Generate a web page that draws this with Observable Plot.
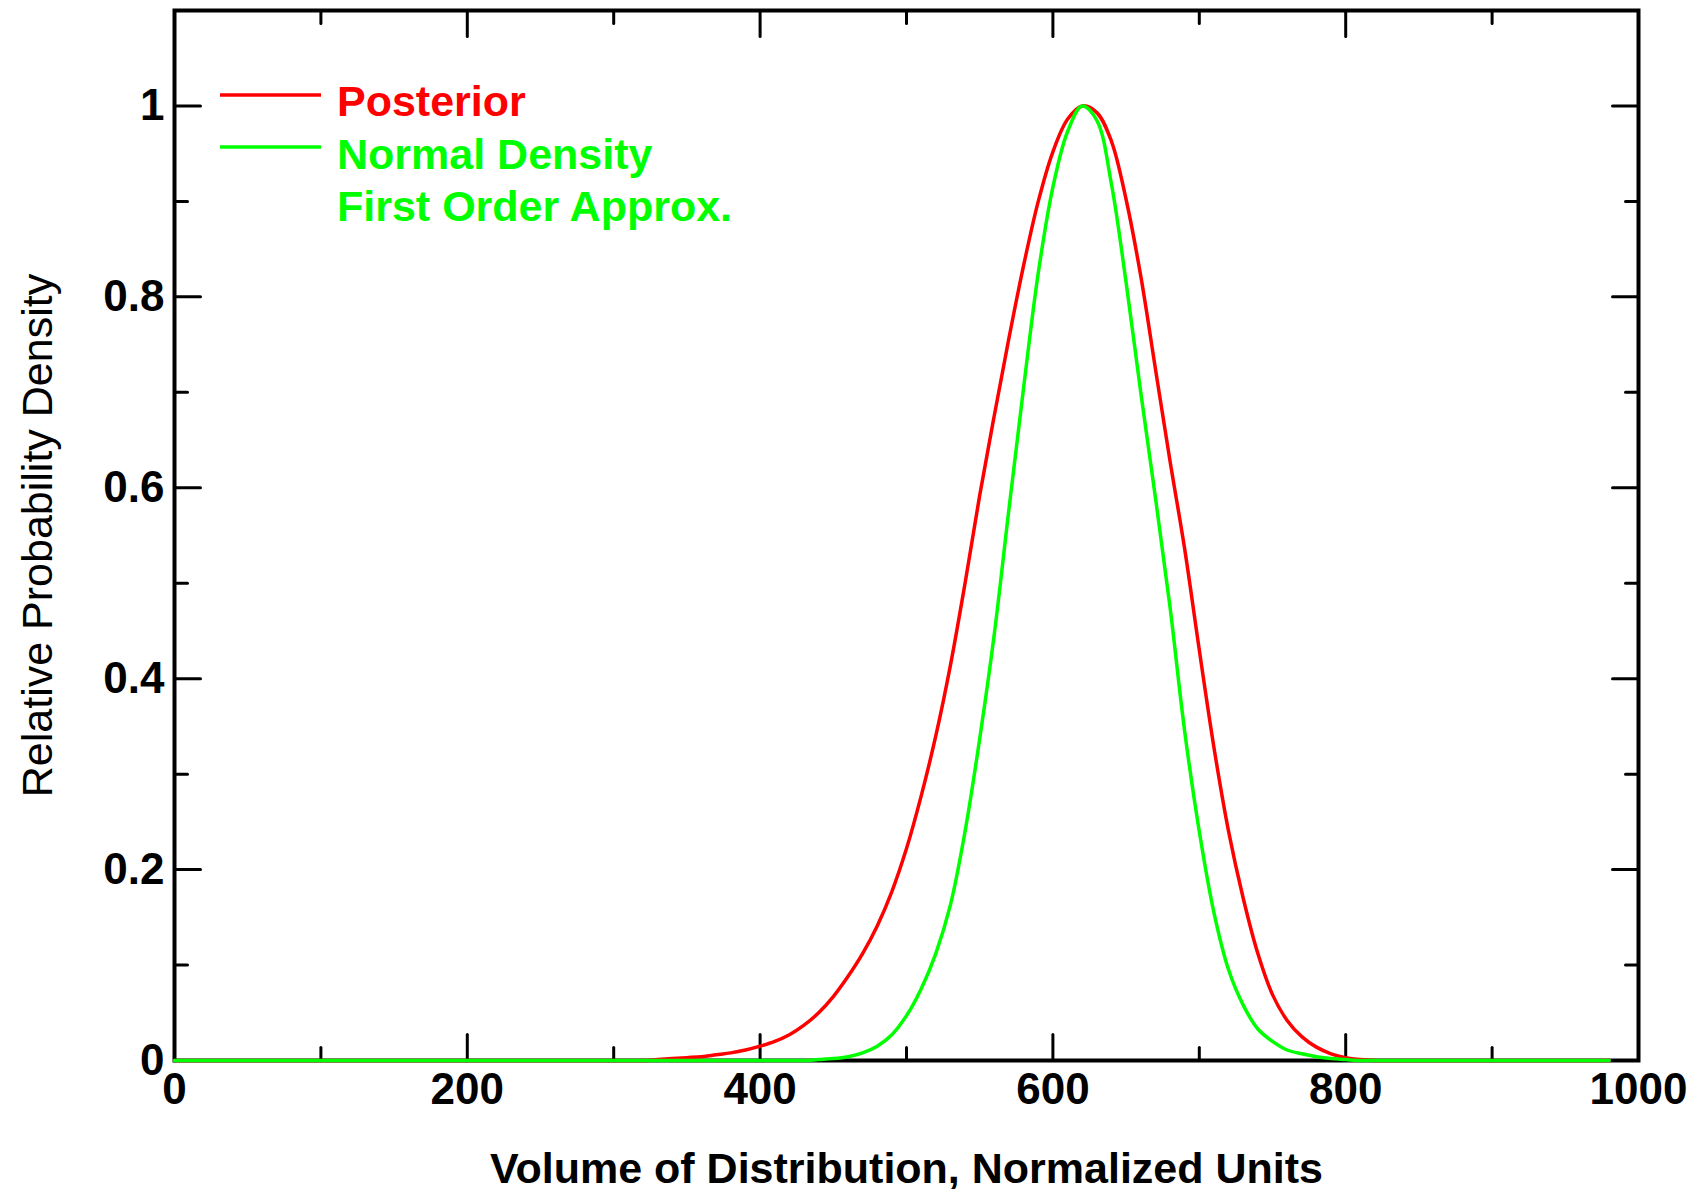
<!DOCTYPE html>
<html>
<head>
<meta charset="utf-8">
<script src="https://cdn.jsdelivr.net/npm/d3@7"></script>
<script src="https://cdn.jsdelivr.net/npm/@observablehq/plot@0.6"></script>
<style>
  html, body { margin: 0; padding: 0; background: #ffffff; }
  svg { display: block; }
</style>
</head>
<body>
<div id="chart"></div>
<script>
// ---- data ----
const volume = [0, 300, 310, 320, 330, 340, 350, 360, 370, 380, 390, 400, 410, 420, 430, 440, 450, 460, 470, 480, 490,
  500, 510, 520, 530, 540, 550, 560, 570, 580, 590, 600, 610, 620, 630, 640, 650, 660, 670, 680, 690,
  700, 710, 720, 730, 740, 750, 760, 770, 780, 790, 800, 810, 820, 830, 840, 980];
const posterior = [0, 0, 0, 0, 0.001, 0.002, 0.003, 0.004, 0.006, 0.008, 0.011, 0.015, 0.020, 0.027, 0.037, 0.050, 0.067, 0.088, 0.112, 0.141, 0.177,
  0.222, 0.277, 0.340, 0.414, 0.500, 0.592, 0.676, 0.757, 0.833, 0.900, 0.952, 0.986, 1.000, 0.993, 0.963, 0.902, 0.822, 0.725, 0.628, 0.536,
  0.430, 0.328, 0.240, 0.170, 0.112, 0.069, 0.042, 0.025, 0.014, 0.007, 0.003, 0.001, 0, 0, 0, 0];
const normalDensity = [0, 0, 0, 0, 0, 0, 0, 0, 0, 0, 0, 0, 0, 0, 0, 0.001, 0.002, 0.004, 0.008, 0.015, 0.027,
  0.047, 0.075, 0.112, 0.163, 0.240, 0.337, 0.447, 0.578, 0.705, 0.825, 0.915, 0.973, 1.000, 0.985, 0.918, 0.815, 0.700, 0.590, 0.475, 0.345,
  0.240, 0.155, 0.095, 0.058, 0.033, 0.020, 0.011, 0.007, 0.004, 0.002, 0.001, 0, 0, 0, 0, 0];

const xMajorTicks = [0, 200, 400, 600, 800, 1000];
const xMinorTicks = [100, 300, 500, 700, 900];
const xTickLabels = ["0", "200", "400", "600", "800", "1000"];
const yMajorTicks = [0, 0.2, 0.4, 0.6, 0.8, 1];
const yMinorTicks = [0.1, 0.3, 0.5, 0.7, 0.9, 1.1];
const yTickLabels = ["0", "0.2", "0.4", "0.6", "0.8", "1"];
const seriesNames = ["Posterior", "Normal Density"];
const seriesColors = ["#ff0000", "#00ff00"];
const legendLabels = ["Posterior", "Normal Density", "First Order Approx."];
const legendColors = ["#ff0000", "#00ff00", "#00ff00"];
const xTitle = "Volume of Distribution, Normalized Units";
const yTitle = "Relative Probability Density";

// ---- build tables ----
const postRows = volume.map((v, i) => ({v, d: posterior[i]}));
const normRows = volume.map((v, i) => ({v, d: normalDensity[i]}));
const xLabelRows = xMajorTicks.map((t, i) => ({t, label: xTickLabels[i]}));
const yLabelRows = yMajorTicks.map((t, i) => ({t, label: yTickLabels[i]}));

const FONT = "'Liberation Sans', Arial, Helvetica, sans-serif";
const tickShape = {draw(context, l) { context.moveTo(0, 0); context.lineTo(0, -l); }};
const MAJ = 26, MIN = 13, TW = 3;

function ticks(data, channel, frameAnchor, rotate, length) {
  const o = {frameAnchor, rotate, length, anchor: "start", shape: tickShape, stroke: "black", strokeWidth: TW};
  o[channel] = d => d;
  return Plot.vector(data, o);
}

const plot = Plot.plot({
  width: 1703,
  height: 1189,
  marginLeft: 174,
  marginRight: 65,
  marginTop: 10,
  marginBottom: 129,
  style: {fontFamily: FONT, background: "#ffffff", overflow: "visible"},
  x: {domain: [0, 1000], axis: null},
  y: {domain: [0, 1.1], axis: null},
  marks: [
    Plot.frame({stroke: "black", strokeWidth: 4}),
    // inward ticks on all four sides
    ticks(xMajorTicks, "x", "bottom", 0, MAJ),
    ticks(xMinorTicks, "x", "bottom", 0, MIN),
    ticks(xMajorTicks, "x", "top", 180, MAJ),
    ticks(xMinorTicks, "x", "top", 180, MIN),
    ticks(yMajorTicks, "y", "left", 90, MAJ),
    ticks(yMinorTicks, "y", "left", 90, MIN),
    ticks(yMajorTicks, "y", "right", -90, MAJ),
    ticks(yMinorTicks, "y", "right", -90, MIN),
    // tick labels
    Plot.text(xLabelRows, {x: "t", text: "label", frameAnchor: "bottom", dy: 43, fontSize: 44, fontWeight: "bold", fill: "black"}),
    Plot.text(yLabelRows, {y: "t", text: "label", frameAnchor: "left", textAnchor: "end", dx: -10, fontSize: 44, fontWeight: "bold", fill: "black"}),
    // axis titles
    Plot.text([xTitle], {frameAnchor: "bottom", dy: 122, fontSize: 43, fontWeight: "bold", fill: "black"}),
    Plot.text([yTitle], {frameAnchor: "left", textAnchor: "middle", dx: -136, rotate: -90, fontSize: 43, fill: "black"}),
    // curves
    Plot.line(postRows, {x: "v", y: "d", stroke: seriesColors[0], strokeWidth: 3.5, curve: "catmull-rom"}),
    Plot.line(normRows, {x: "v", y: "d", stroke: seriesColors[1], strokeWidth: 3.5, curve: "catmull-rom"})
  ]
});

// legend inside the plot, top-left
const svg = d3.select(plot);
const lg = svg.append("g")
  .attr("font-family", FONT).attr("font-size", 43).attr("font-weight", "bold").attr("text-anchor", "start");
[0, 1].forEach(i => {
  lg.append("line").attr("x1", 220).attr("x2", 321).attr("y1", 95 + i * 52).attr("y2", 95 + i * 52)
    .attr("stroke", seriesColors[i]).attr("stroke-width", 3.5);
});
legendLabels.forEach((t, i) => {
  lg.append("text").attr("x", 337).attr("y", 116 + i * 52.5).attr("fill", legendColors[i])
    .attr("text-anchor", "start").text(t);
});

document.getElementById("chart").appendChild(plot);
</script>
</body>
</html>
